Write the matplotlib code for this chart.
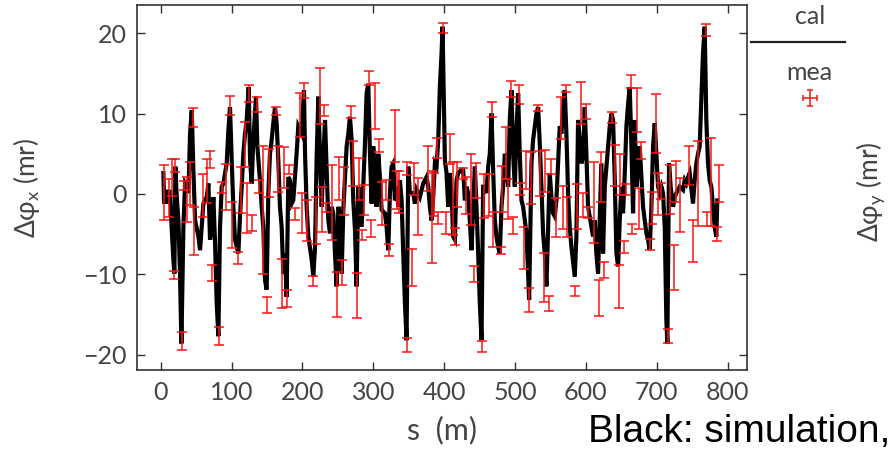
import numpy as np
import matplotlib
matplotlib.use('Agg')
import matplotlib.pyplot as plt
from matplotlib.lines import Line2D

# simulated phase advance difference (black curve)
sim_s = [
    3.7, 4.7, 8.4, 10.8, 13.1, 15.5, 17.8, 19.2, 20.6, 22.5, 24.9, 27.2, 29.1, 31.9, 34.3, 36.6, 39.0, 41.3, 43.7, 46.0,
    48.4, 53.1, 55.4, 57.8, 60.1, 64.8, 67.2, 69.5, 71.9, 74.2, 76.6, 78.9, 81.3, 83.6, 86.0, 88.3, 93.0, 95.4, 97.7, 100.1,
    102.4, 104.8, 109.5, 111.8, 114.2, 116.5, 118.9, 121.2, 124.1, 126.0, 128.3, 130.6, 134.4, 136.3, 140.0, 142.4, 144.7, 147.1, 149.4, 151.8,
    154.1, 156.5, 158.8, 161.2, 163.5, 165.9, 168.2, 170.6, 172.9, 175.3, 177.6, 180.0, 182.3, 184.7, 187.0, 191.7, 194.1, 198.8, 202.1,
    203.6, 205.9, 208.3, 213.0, 215.3, 217.7, 220.0, 222.4, 224.7, 227.1, 229.4, 231.8, 234.1, 236.5, 238.8, 241.2, 243.5, 245.9, 248.2, 250.6,
    252.9, 255.3, 257.6, 262.3, 264.7, 267.0, 269.4, 271.7, 274.1, 276.4, 278.8, 281.1, 283.5, 288.2, 290.5, 292.9, 295.2, 297.6, 299.9, 302.3,
    304.6, 307.0, 309.3, 311.7, 316.4, 318.7, 321.1, 323.4, 325.8, 328.1, 330.5, 332.8, 335.2, 337.5, 339.9, 342.2, 344.6, 346.9, 349.3, 351.6,
    356.3, 358.7, 361.0, 365.7, 370.4, 375.1, 377.5, 379.8, 382.2, 384.5, 386.9, 389.2, 391.6, 393.9, 396.3, 397.7, 399.6, 401.0, 403.3, 405.7,
    408.0, 410.4, 412.7,
    415.1, 417.4, 419.8, 424.5, 426.8, 429.2, 431.5, 433.9, 436.2, 438.6, 440.9, 443.3, 445.6, 448.0, 450.3, 452.7, 455.0, 457.4, 459.7, 462.1,
    464.4, 466.8, 469.1, 471.5, 473.8, 476.2, 478.5, 480.9, 483.2, 485.6, 487.9, 490.3, 492.6, 495.0, 497.3, 499.7, 502.0, 504.4, 506.7, 509.1,
    511.4, 516.1, 518.5, 519.9, 523.2, 525.5, 527.9, 530.2, 532.6, 534.9, 537.3, 539.6, 542.0, 544.3, 546.7, 549.0, 551.4, 553.7, 556.1, 558.4,
    560.8, 563.1, 565.5, 567.8, 570.2, 572.5, 574.9, 577.2, 579.6, 584.3, 586.6, 589.0, 591.3, 593.7, 596.0, 598.4, 600.7, 603.1, 605.4, 610.1,
    612.5, 614.8, 617.2, 619.5, 621.9,
    624.3, 626.7, 629.0, 631.4, 633.7, 636.1, 638.4, 640.8, 643.1, 645.5, 647.8, 650.2, 652.5, 654.9, 657.2, 659.6, 661.9, 664.3, 666.6, 669.0,
    671.3, 673.7, 676.0, 678.4, 680.7, 683.1, 685.4, 687.8, 690.1, 692.5, 694.8, 697.2, 699.5, 701.9, 704.2, 706.6, 708.9, 711.3, 713.6, 715.0,
    717.4, 719.7, 723.0, 725.4, 727.7, 732.4, 737.1, 739.5, 741.8, 744.2, 746.5, 751.2, 753.6, 755.9, 758.3, 760.6, 763.0, 765.3, 767.7, 770.0,
    772.4, 774.7, 777.1, 779.4, 781.8, 784.1, 785.5,
]
sim_dphi = [
    2.6, -1.2, 0.5, -1.2, 0.5, -4.5, -8.2, -9.9, 3.4, -0.4, -3.3, -10.3, -18.6, -4.1, 1.3, 0.9, 0.1, 7.5, 10.4, 3.0,
    -3.3, -5.3, -7.0, -4.1, -1.2, -0.4, 1.3, -5.7, -4.1, -0.4, -6.1, -13.6, -17.7, -4.1, 0.9, 1.3, 3.8, 7.9, 10.8, 4.2,
    -1.6, -5.7, -7.4, -2.8, 0.9, 5.0, 7.5, 9.2, 13.3, 4.2, 1.3, 6.7, 12.1, 5.9, 1.7, -1.6, -4.1, -10.7, -11.9, 0.1,
    5.0, 6.7, 8.8, 10.8, 8.8, 4.2, -1.6, -4.1, -9.9, -7.4, -12.8, 2.1, 1.7, -1.2, -0.8, 5.0, 8.4, 7.5, 12.9,
    5.0, -1.6, -5.3, -8.2, -10.3, -6.6, 4.6, 12.1, 5.0, -1.6, 4.2, 9.2, 3.0, -3.3, -4.9, -1.6, -2.4, -7.4, -11.5, -1.6,
    -2.4, -9.9, -2.0, 5.9, 7.5, 9.6, 6.7, -0.8, -4.5, -11.5, 0.9, -1.6, -4.1, 6.3, 12.5, 13.7, 5.0, -1.2, 5.9, 1.7,
    -1.6, 5.0, 2.1, -2.0, -2.4, -4.1, -7.0, 0.1, 3.4, 3.8, -0.8, 0.9, -1.6, 1.7, -0.8, -7.4, -13.6, -18.2, 3.4, 0.1,
    0.1, -1.2, 0.5, -0.4, 1.3, 2.1, 0.9, -1.6, -3.3, -0.4, 3.8, 3.4, 6.7, 13.3, 17.5, 20.8, 11.2, 4.2, 2.6, -1.6,
    2.6, 0.1, -5.3,
    -5.7, 1.7, 2.6, 3.0, 3.0, -0.8, 0.9, 0.1, -3.3, -7.0, -1.6, 3.4, -1.6, -7.4, -13.6, -18.2, 0.9, 0.9, 0.1, 3.4,
    5.0, 10.0, 3.0, -3.3, -5.3, -6.6, -7.4, -1.6, 0.9, 5.0, 3.8, 0.9, 9.2, 12.9, 5.0, 0.9, 7.9, 12.5, 5.0, -0.8,
    -1.6, -4.9, -9.9, -13.2, 3.8, 6.7, 8.4, 10.0, 10.8, 6.3, 0.9, -4.9, -7.4, -11.5, -4.1, 2.6, -0.4, -2.4, -2.8, -0.8,
    3.8, 8.4, 7.5, 10.8, 12.9, 7.5, 0.1, -4.1, -6.6, -10.3, -5.3, 9.2, 6.7, 3.8, 4.6, 10.8, 5.0, -1.6, -2.8, -5.3,
    -3.3, -7.4, -9.9, -3.3, 3.8,
    -7.4, 0.9, 3.4, 5.9, 8.4, 10.0, 9.2, 1.7, -7.4, -9.0, -3.3, 0.9, -2.4, 2.6, 8.4, 11.2, 13.3, 5.9, -2.4, 9.2,
    0.9, 3.0, 5.9, 2.1, -1.6, -3.3, -4.9, -5.7, -7.0, -1.6, 5.9, 8.8, 5.0, 0.9, 0.1, 0.9, 0.1, -4.1, -15.7, -18.6,
    3.8, 0.9, -1.6, -0.4, 0.1, 0.9, 0.5, 1.7, 1.3, 2.1, 2.6, -1.2, 1.7, 3.8, 5.0, 5.9, 11.7, 17.5, 20.8, 9.2,
    3.8, 1.7, 0.9, -1.6, -4.1, -5.3, -0.8,
]

# measurement (red) with half error bars
mea_s = [
    5.1, 11.7, 15.5, 18.5, 20.2, 30.5, 33.3, 36.6, 41.3, 45.1, 47.0, 60.1, 64.8, 69.5, 72.8, 82.7, 86.0, 92.1, 97.7, 101.0,
    109.5, 112.8, 119.0, 121.2, 125.0, 128.3, 135.3, 139.1, 144.8, 150.4, 152.3, 162.6, 165.9, 171.1, 174.4, 178.6, 181.4, 189.4, 196.5, 199.3,
    202.0, 205.9, 215.3, 219.0, 224.7, 227.0, 230.3, 233.2, 241.2, 248.2, 251.5, 255.3, 258.5, 268.0, 270.8, 276.4, 279.7, 283.5, 287.2, 293.8,
    296.6, 302.3, 308.4, 311.7, 317.8, 322.0, 330.5, 332.8, 336.6, 347.0, 348.0, 354.9, 357.7, 363.4, 376.5, 383.1, 385.9, 389.2, 390.6, 398.6,
    401.9, 408.0, 411.8,
    415.0, 417.4, 426.8, 430.6, 437.6, 442.3, 444.7, 452.7, 456.4, 463.5, 466.8, 469.1, 479.9, 481.8, 487.0, 490.3, 495.0, 497.3, 505.3, 507.6,
    512.3, 516.1, 519.9, 522.2, 532.5, 534.9, 540.5, 542.9, 547.6, 550.4, 557.5, 564.5, 567.8, 572.5, 573.9, 585.2, 587.5, 593.7, 596.0, 600.7,
    603.0, 611.5, 618.6, 621.9,
    625.7, 637.5, 640.8, 646.4, 648.7, 653.9, 656.3, 663.3, 665.2, 672.7, 674.6, 677.4, 690.1, 693.4, 699.5, 701.9, 705.6, 716.0, 718.3, 724.4,
    726.8, 733.3, 745.6, 751.2, 758.3, 769.0, 770.9, 777.0, 785.0, 787.4,
]
mea_dphi = [
    0.2, -0.5, 2.1, -10.1, 3.5, -18.3, 1.05, -0.7, 1.3, 9.5, -4.6, -0.2, 1.6, 4.3, -9.85, -17.7, 0.8, 0.85, 11.0, -3.9,
    -8.0, 0.45, 6.15, -1.75, 12.45, -3.6, 11.15, 0.9, -2.0, -13.8, 2.65, 10.3, 3.1, -11.2, 3.25, -13.0, 3.05, -2.5, 9.85, -2.4,
    12.85, -3.3, -10.8, -3.3, 12.2, -1.9, 10.35, -1.7, -1.05, -12.5, 1.9, -9.75, 0.4, 10.15, 3.8, -12.6, 1.85, -5.1, -0.75, 14.4,
    -4.3, 10.95, 6.0, -1.2, 0.5, -6.95, 7.25, 0.5, 0.2, -18.75, 3.2, -9.2, 1.9, -1.55, 3.2, -2.9, -0.1, 5.7, -3.0, 20.65,
    -3.65, 5.55, -0.55,
    -5.3, 1.2, 2.5, -0.2, 0.55, -9.95, 1.7, -19.0, -0.25, -0.15, 10.5, -4.4, -7.05, 0.6, 5.1, -0.65, 13.0, -3.95, 12.4, 0.65,
    -6.7, 2.95, -13.2, 2.0, 10.7, 2.5, -10.4, 2.85, -13.65, 3.4, -2.9, 9.4, -1.7, 13.1, -2.9, -12.05, -1.55, 11.3, -1.35, 10.25,
    -2.3, -1.05, -12.95, 2.15,
    -9.45, 9.5, 3.55, -11.55, 2.45, -6.6, 0.55, 14.0, -4.35, 10.45, -1.8, 5.45, -6.3, -1.7, 8.75, -0.05, 0.4, -17.7, 0.55, -9.1,
    1.55, -1.35, 3.5, -5.85, 1.3, 20.4, -3.15, 1.5, -4.95, 1.3,
]
mea_err = [
    3.4, 2.4, 2.3, 0.5, 0.8, 1.1, 0.55, 2.8, 2.7, 1.2, 3.0, 2.65, 2.7, 1.1, 0.95, 1.15, 0.7, 2.85, 1.2, 2.85,
    0.75, 2.85, 2.75, 3.15, 1.05, 1.0, 0.95, 0.8, 7.95, 1.0, 3.0, 0.5, 2.85, 3.05, 2.55, 1.1, 0.6, 0.7, 2.75, 2.5,
    0.95, 2.6, 0.6, 2.9, 3.5, 2.8, 0.65, 0.6, 4.65, 2.8, 2.7, 1.55, 3.0, 0.75, 2.8, 2.8, 2.6, 0.6, 1.85, 0.9,
    1.1, 2.85, 0.8, 2.7, 1.25, 0.75, 3.25, 2.35, 2.6, 0.85, 0.8, 2.3, 2.0, 3.5, 2.8, 5.7, 2.7, 1.2, 0.7, 0.65,
    1.35, 1.85, 4.55,
    1.1, 2.8, 0.7, 2.3, 4.45, 0.95, 2.2, 0.7, 2.75, 2.65, 0.95, 2.2, 0.45, 2.9, 3.2, 2.45, 1.0, 1.05, 1.2, 0.75,
    2.6, 2.35, 1.5, 3.25, 0.35, 2.8, 3.1, 2.6, 0.95, 0.9, 2.4, 2.6, 2.7, 0.4, 2.5, 0.65, 2.75, 2.6, 1.5, 0.95,
    0.7, 5.05, 2.2, 3.1,
    0.95, 0.7, 2.55, 2.65, 2.55, 0.8, 0.65, 0.8, 0.65, 2.75, 2.5, 1.05, 0.65, 2.0, 3.65, 2.6, 1.0, 0.9, 3.05, 2.8,
    2.55, 3.35, 2.4, 2.65, 5.3, 0.7, 0.85, 5.5, 0.85, 2.3,
]

x_ticks = [0, 100, 200, 300, 400, 500, 600, 700, 800]
y_ticks = [-20, -10, 0, 10, 20]

assert len(sim_s) == len(sim_dphi)
assert len(mea_s) == len(mea_dphi) == len(mea_err)

gray = '#444444'
red = '#ff1414'
plt.rcParams['font.family'] = ['Lato', 'DejaVu Sans']
plt.rcParams['mathtext.fontset'] = 'dejavusans'
plt.rcParams['mathtext.default'] = 'regular'

fig = plt.figure(figsize=(8.94, 4.51), dpi=100)
W, H = 894.0, 451.0
ax = fig.add_axes([136.7 / W, 1 - 370 / H, 610 / W, 365 / H])

ax.plot(sim_s, sim_dphi, color='black', lw=3.0, solid_joinstyle='miter', zorder=2)
ax.errorbar(mea_s, mea_dphi, yerr=mea_err, fmt='none', ecolor=red,
            elinewidth=1.1, capsize=3.5, capthick=1.1, zorder=3)

ax.set_xlim(-34, 827)
ax.set_ylim(-21.9, 23.5)
ax.set_xticks(x_ticks)
ax.set_yticks(y_ticks)
ax.tick_params(direction='in', top=True, right=True, length=6, width=1,
               color='#333333', labelsize=18, labelcolor=gray)
ax.tick_params(axis='x', pad=8)
ax.tick_params(axis='y', pad=7)
for sp in ax.spines.values():
    sp.set_color('#333333')
    sp.set_linewidth(1.2)

ax.set_xlabel('s  (m)', fontsize=22, color=gray)
ax.xaxis.set_label_coords(0.5, -0.125)
ax.set_ylabel(r'$\Delta\varphi_{x}$ (mr)', fontsize=19, color=gray)
ax.yaxis.set_label_coords(-0.155, 0.5)

# right hand side: key and the (cropped) y label of the second panel
fig.text(810 / W, 1 - 17 / H, 'cal', ha='center', va='center', fontsize=18, color=gray)
fig.add_artist(Line2D([751 / W, 845 / W], [1 - 42 / H, 1 - 42 / H],
                      transform=fig.transFigure, color='#222222', lw=1.6))
fig.text(809 / W, 1 - 72 / H, 'mea', ha='center', va='center', fontsize=18, color=gray)
kax = fig.add_axes([800 / W, 1 - 108 / H, 20 / W, 20 / H])
kax.errorbar([0], [0], xerr=[7], yerr=[8], fmt='none', ecolor=red,
             elinewidth=1.1, capsize=2.5, capthick=1.1)
kax.set_xlim(-10, 10)
kax.set_ylim(-10, 10)
kax.axis('off')

fig.text(871 / W, 1 - 192 / H, r'$\Delta\varphi_{y}$ (mr)', rotation=90,
         ha='center', va='center', fontsize=19, color=gray)

fig.text(588 / W, 1 - 442 / H, 'Black: simulation,', ha='left', va='baseline',
         fontsize=28, color='black', family=['Liberation Sans', 'DejaVu Sans'])

fig.savefig('out.png', dpi=100)
